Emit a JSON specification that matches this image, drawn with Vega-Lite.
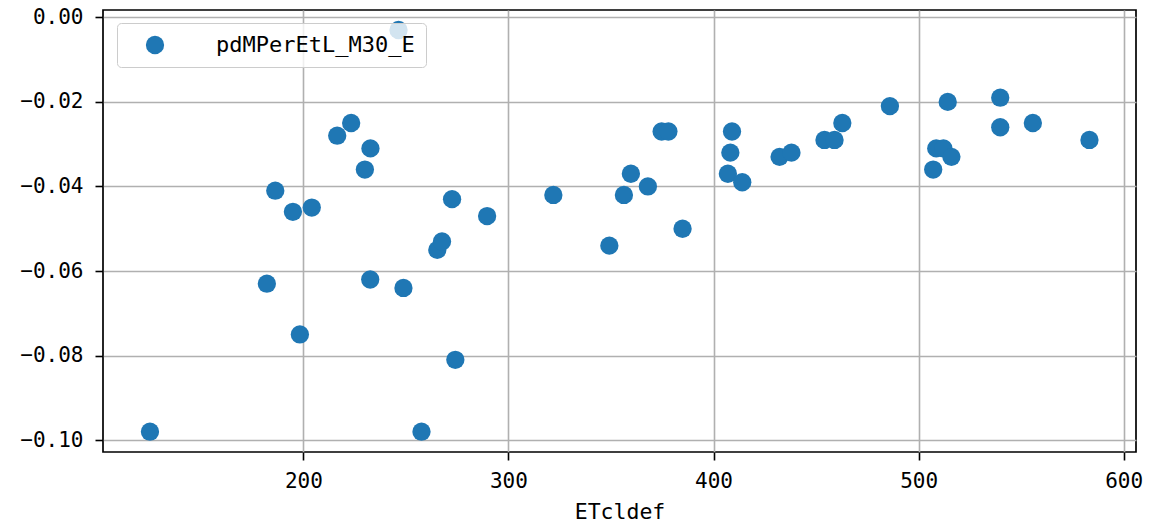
{
  "$schema": "https://vega.github.io/schema/vega-lite/v6.json",
  "width": 1033,
  "height": 442,
  "autosize": {"type": "none"},
  "padding": {"left": 103, "top": 10, "right": 14, "bottom": 73},
  "background": "white",
  "data": {
    "values": [
      {"ETcldef": 125.2, "pdMPerEtL_M30_E": -0.098, "series": "pdMPerEtL_M30_E"},
      {"ETcldef": 182.2, "pdMPerEtL_M30_E": -0.063, "series": "pdMPerEtL_M30_E"},
      {"ETcldef": 186.3, "pdMPerEtL_M30_E": -0.041, "series": "pdMPerEtL_M30_E"},
      {"ETcldef": 194.9, "pdMPerEtL_M30_E": -0.046, "series": "pdMPerEtL_M30_E"},
      {"ETcldef": 198.3, "pdMPerEtL_M30_E": -0.075, "series": "pdMPerEtL_M30_E"},
      {"ETcldef": 204.1, "pdMPerEtL_M30_E": -0.045, "series": "pdMPerEtL_M30_E"},
      {"ETcldef": 216.5, "pdMPerEtL_M30_E": -0.028, "series": "pdMPerEtL_M30_E"},
      {"ETcldef": 223.3, "pdMPerEtL_M30_E": -0.025, "series": "pdMPerEtL_M30_E"},
      {"ETcldef": 230.0, "pdMPerEtL_M30_E": -0.036, "series": "pdMPerEtL_M30_E"},
      {"ETcldef": 232.7, "pdMPerEtL_M30_E": -0.031, "series": "pdMPerEtL_M30_E"},
      {"ETcldef": 232.6, "pdMPerEtL_M30_E": -0.062, "series": "pdMPerEtL_M30_E"},
      {"ETcldef": 246.4, "pdMPerEtL_M30_E": -0.003, "series": "pdMPerEtL_M30_E"},
      {"ETcldef": 248.8, "pdMPerEtL_M30_E": -0.064, "series": "pdMPerEtL_M30_E"},
      {"ETcldef": 257.6, "pdMPerEtL_M30_E": -0.098, "series": "pdMPerEtL_M30_E"},
      {"ETcldef": 265.3, "pdMPerEtL_M30_E": -0.055, "series": "pdMPerEtL_M30_E"},
      {"ETcldef": 267.6, "pdMPerEtL_M30_E": -0.053, "series": "pdMPerEtL_M30_E"},
      {"ETcldef": 272.5, "pdMPerEtL_M30_E": -0.043, "series": "pdMPerEtL_M30_E"},
      {"ETcldef": 274.1, "pdMPerEtL_M30_E": -0.081, "series": "pdMPerEtL_M30_E"},
      {"ETcldef": 289.6, "pdMPerEtL_M30_E": -0.047, "series": "pdMPerEtL_M30_E"},
      {"ETcldef": 321.9, "pdMPerEtL_M30_E": -0.042, "series": "pdMPerEtL_M30_E"},
      {"ETcldef": 349.2, "pdMPerEtL_M30_E": -0.054, "series": "pdMPerEtL_M30_E"},
      {"ETcldef": 356.3, "pdMPerEtL_M30_E": -0.042, "series": "pdMPerEtL_M30_E"},
      {"ETcldef": 359.7, "pdMPerEtL_M30_E": -0.037, "series": "pdMPerEtL_M30_E"},
      {"ETcldef": 368.0, "pdMPerEtL_M30_E": -0.040, "series": "pdMPerEtL_M30_E"},
      {"ETcldef": 374.7, "pdMPerEtL_M30_E": -0.027, "series": "pdMPerEtL_M30_E"},
      {"ETcldef": 378.0, "pdMPerEtL_M30_E": -0.027, "series": "pdMPerEtL_M30_E"},
      {"ETcldef": 384.9, "pdMPerEtL_M30_E": -0.050, "series": "pdMPerEtL_M30_E"},
      {"ETcldef": 407.0, "pdMPerEtL_M30_E": -0.037, "series": "pdMPerEtL_M30_E"},
      {"ETcldef": 408.2, "pdMPerEtL_M30_E": -0.032, "series": "pdMPerEtL_M30_E"},
      {"ETcldef": 409.0, "pdMPerEtL_M30_E": -0.027, "series": "pdMPerEtL_M30_E"},
      {"ETcldef": 414.0, "pdMPerEtL_M30_E": -0.039, "series": "pdMPerEtL_M30_E"},
      {"ETcldef": 432.2, "pdMPerEtL_M30_E": -0.033, "series": "pdMPerEtL_M30_E"},
      {"ETcldef": 438.0, "pdMPerEtL_M30_E": -0.032, "series": "pdMPerEtL_M30_E"},
      {"ETcldef": 454.1, "pdMPerEtL_M30_E": -0.029, "series": "pdMPerEtL_M30_E"},
      {"ETcldef": 459.0, "pdMPerEtL_M30_E": -0.029, "series": "pdMPerEtL_M30_E"},
      {"ETcldef": 462.8, "pdMPerEtL_M30_E": -0.025, "series": "pdMPerEtL_M30_E"},
      {"ETcldef": 486.0, "pdMPerEtL_M30_E": -0.021, "series": "pdMPerEtL_M30_E"},
      {"ETcldef": 507.1, "pdMPerEtL_M30_E": -0.036, "series": "pdMPerEtL_M30_E"},
      {"ETcldef": 508.6, "pdMPerEtL_M30_E": -0.031, "series": "pdMPerEtL_M30_E"},
      {"ETcldef": 512.1, "pdMPerEtL_M30_E": -0.031, "series": "pdMPerEtL_M30_E"},
      {"ETcldef": 514.2, "pdMPerEtL_M30_E": -0.020, "series": "pdMPerEtL_M30_E"},
      {"ETcldef": 516.0, "pdMPerEtL_M30_E": -0.033, "series": "pdMPerEtL_M30_E"},
      {"ETcldef": 539.8, "pdMPerEtL_M30_E": -0.019, "series": "pdMPerEtL_M30_E"},
      {"ETcldef": 539.8, "pdMPerEtL_M30_E": -0.026, "series": "pdMPerEtL_M30_E"},
      {"ETcldef": 555.7, "pdMPerEtL_M30_E": -0.025, "series": "pdMPerEtL_M30_E"},
      {"ETcldef": 583.3, "pdMPerEtL_M30_E": -0.029, "series": "pdMPerEtL_M30_E"}
    ]
  },
  "mark": {"type": "point", "shape": "circle", "filled": true, "opacity": 1, "size": 335, "strokeWidth": 0},
  "encoding": {
    "x": {
      "field": "ETcldef",
      "type": "quantitative",
      "scale": {"domain": [102.3, 606.0], "nice": false, "zero": false},
      "axis": {"values": [200, 300, 400, 500, 600], "title": "ETcldef", "labelFlush": false, "labelPadding": 10, "titlePadding": 10}
    },
    "y": {
      "field": "pdMPerEtL_M30_E",
      "type": "quantitative",
      "scale": {"domain": [-0.1028, 0.00173], "nice": false, "zero": false},
      "axis": {"values": [-0.1, -0.08, -0.06, -0.04, -0.02, 0], "format": ".2f", "title": null, "labelPadding": 12, "labelFlush": false}
    },
    "color": {
      "field": "series",
      "type": "nominal",
      "scale": {"range": ["#1f77b4"]},
      "legend": {
        "title": null,
        "orient": "none",
        "legendX": 14,
        "legendY": 13,
        "fillColor": "rgba(255,255,255,0.8)",
        "strokeColor": "#cccccc",
        "cornerRadius": 4,
        "padding": 11,
        "symbolType": "circle",
        "symbolSize": 335,
        "symbolStrokeWidth": 0,
        "symbolOpacity": 1,
        "symbolOffset": 16,
        "labelOffset": 50,
        "labelFont": "DejaVu Sans Mono",
        "labelFontSize": 22,
        "labelColor": "black",
        "labelLimit": 0
      }
    }
  },
  "config": {
    "view": {"stroke": "black", "strokeWidth": 1.7},
    "axis": {
      "grid": true,
      "gridColor": "#b0b0b0",
      "gridWidth": 1.6,
      "gridOpacity": 1,
      "domain": false,
      "ticks": true,
      "tickColor": "black",
      "tickWidth": 1.6,
      "tickSize": 8,
      "labelFont": "DejaVu Sans Mono",
      "labelFontSize": 21,
      "labelColor": "black",
      "titleFont": "DejaVu Sans Mono",
      "titleFontSize": 21.5,
      "titleFontWeight": "normal",
      "titleColor": "black"
    }
  }
}
